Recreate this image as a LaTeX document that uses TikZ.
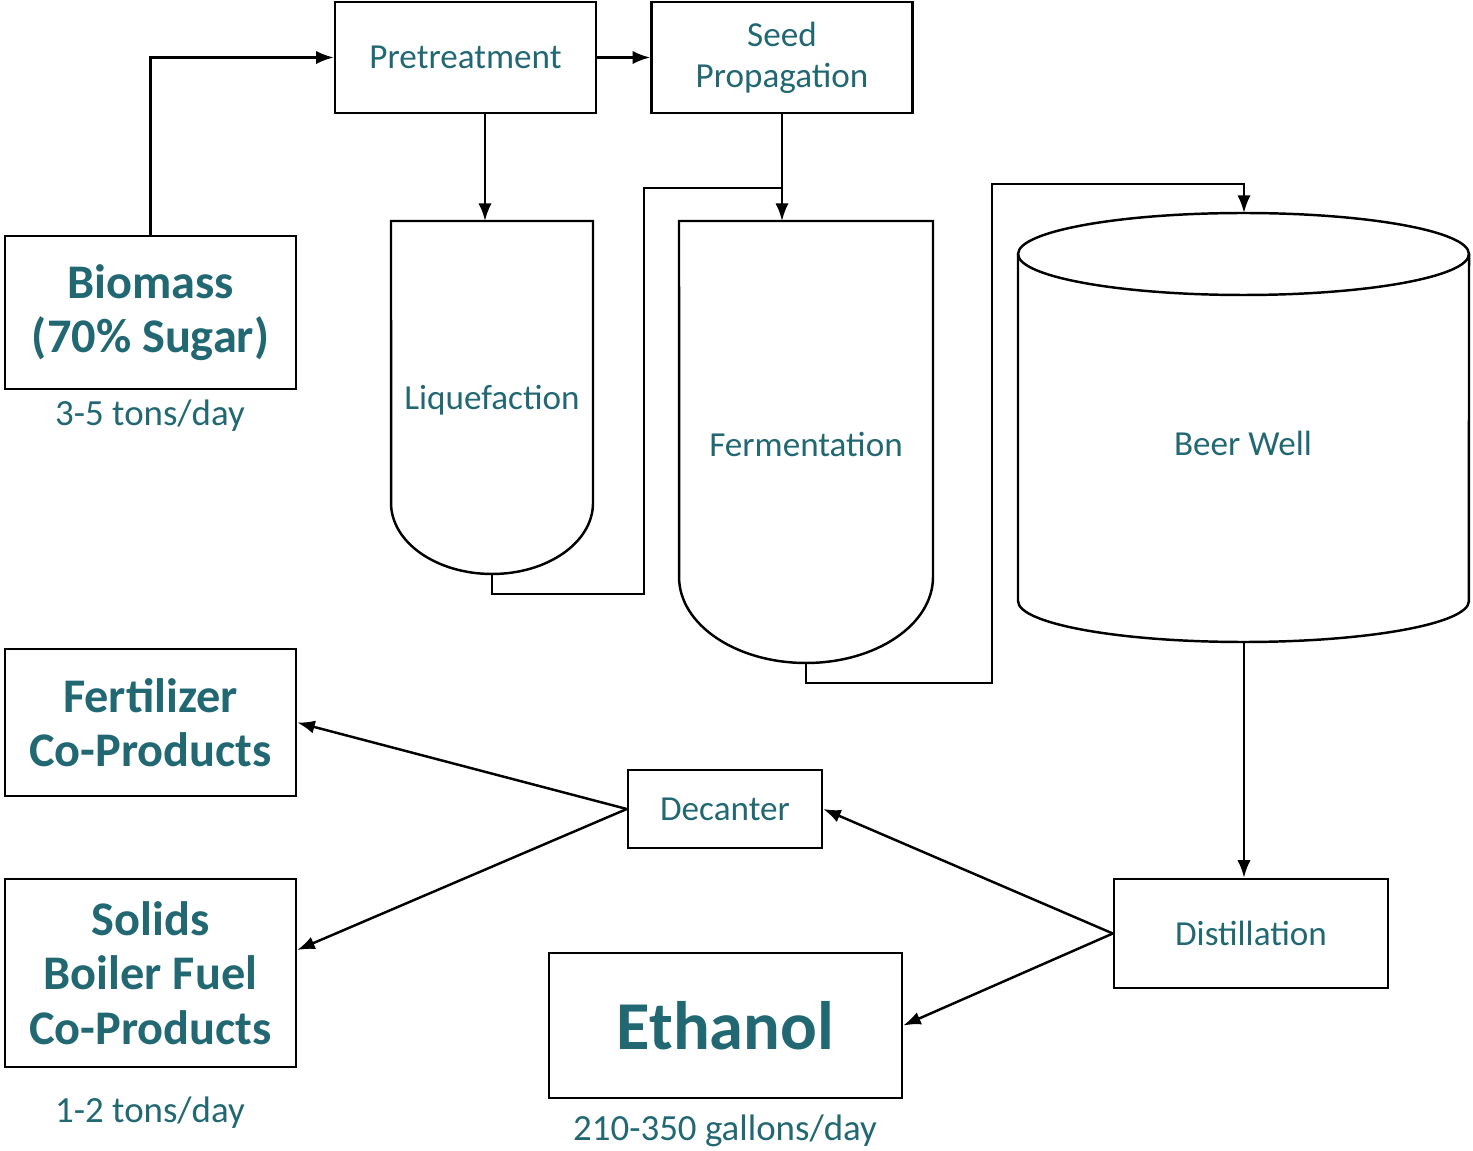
\documentclass[tikz,border=0pt]{standalone}
\usepackage{fontspec}
\setmainfont{Carlito}
\usetikzlibrary{arrows.meta}
\definecolor{procteal}{RGB}{34,104,115}

\begin{document}
\begin{tikzpicture}[x=0.02cm,y=-0.02cm,line width=1.4pt]

\tikzstyle{unit}=[rectangle, draw, text=procteal, align=center, inner sep=0pt, font=\fontsize{20}{23.3}\selectfont]
\tikzstyle{product}=[unit, font=\bfseries\fontsize{27.5}{31}\selectfont]
\tikzstyle{vessel}=[text=procteal, font=\fontsize{20}{23.3}\selectfont]
\tikzstyle{rate}=[text=procteal, font=\fontsize{21}{25}\selectfont]
\tikzstyle{flow}=[-{Latex[length=10pt,width=7.5pt]}, line width=1.4pt]

\useasboundingbox (0,0) rectangle (1473,1151);

	\node[product, minimum width=5.82cm, minimum height=3.06cm] (biomass) at (150.5,312.5) {Biomass\\(70\% Sugar)};
	\node[unit, minimum width=5.22cm, minimum height=2.22cm] (pre)  at (465.5,57.5) {Pretreatment};
	\node[unit, minimum width=5.22cm, minimum height=2.22cm] (seed) at (782,57.5) {Seed\\Propagation};

	\node[product, minimum width=5.82cm, minimum height=2.94cm] (fert)   at (150.5,722.5) {Fertilizer\\Co-Products};
	\node[product, minimum width=5.82cm, minimum height=3.76cm] (solids) at (150.5,973) {Solids\\Boiler Fuel\\Co-Products};
	\node[unit, minimum width=3.88cm, minimum height=1.56cm] (decanter) at (725,809) {Decanter};
	\node[unit, minimum width=5.48cm, minimum height=2.18cm] (dist)     at (1251,933.5) {Distillation};
	\node[unit, minimum width=7.06cm, minimum height=2.9cm, font=\bfseries\fontsize{39}{44}\selectfont] (ethanol) at (725.5,1025.5) {Ethanol};

	\node[rate] (biorate) at (150,416)  {3-5 tons/day};
	\node[rate] (solrate) at (150,1113) {1-2 tons/day};
	\node[rate] (ethrate) at (725,1131) {210-350 gallons/day};

	% vessels
	\draw (391,221) -- (593,221) -- (593,503) arc[start angle=0, end angle=-180, x radius=2.02cm, y radius=1.42cm] -- cycle;
	\draw (679,221) -- (933,221) -- (933,577) arc[start angle=0, end angle=-180, x radius=2.54cm, y radius=1.72cm] -- cycle;
	\draw (1243.5,254) ellipse [x radius=4.51cm, y radius=0.82cm];
	\draw (1018,254) -- (1018,601) arc[start angle=180, end angle=360, x radius=4.51cm, y radius=0.82cm] -- (1469,254);

	\node[vessel] (liq)  at (492,400)  {Liquefaction};
	\node[vessel] (ferm) at (806,444)  {Fermentation};
	\node[vessel] (well) at (1243,443) {Beer Well};

	\coordinate (liqtop)  at (485,221);
	\coordinate (liqbot)  at (492,574);
	\coordinate (fertop)  at (782,221);
	\coordinate (join)    at (782,188);
	\coordinate (ferbot)  at (806,663);
	\coordinate (wellin)  at (1244,184);
	\coordinate (welltop) at (1244,213);
	\coordinate (wellbot) at (1244,642);

	% flows
	\draw[flow] (biomass.north) |- (pre.west);
	\draw[flow] (pre.east) -- (seed.west);
	\draw[flow] (pre.south -| liqtop) -- (liqtop);
	\draw[flow] (seed.south) -- (fertop);
	\draw (liqbot) -- ++(0,20) -- ++(152,0) |- (join);
	\draw[flow] (ferbot) -- ++(0,20) -- ++(186,0) |- (wellin) -- (welltop);
	\draw[flow] (wellbot) -- (wellbot |- dist.north);

	\draw[flow] (dist.west) -- (decanter.east);
	\draw[flow] (dist.west) -- (ethanol.east);
	\draw[flow] (decanter.west) -- (fert.east);
	\draw[flow] (decanter.west) -- ([yshift=0.46cm]solids.east);
\end{tikzpicture}
\end{document}
